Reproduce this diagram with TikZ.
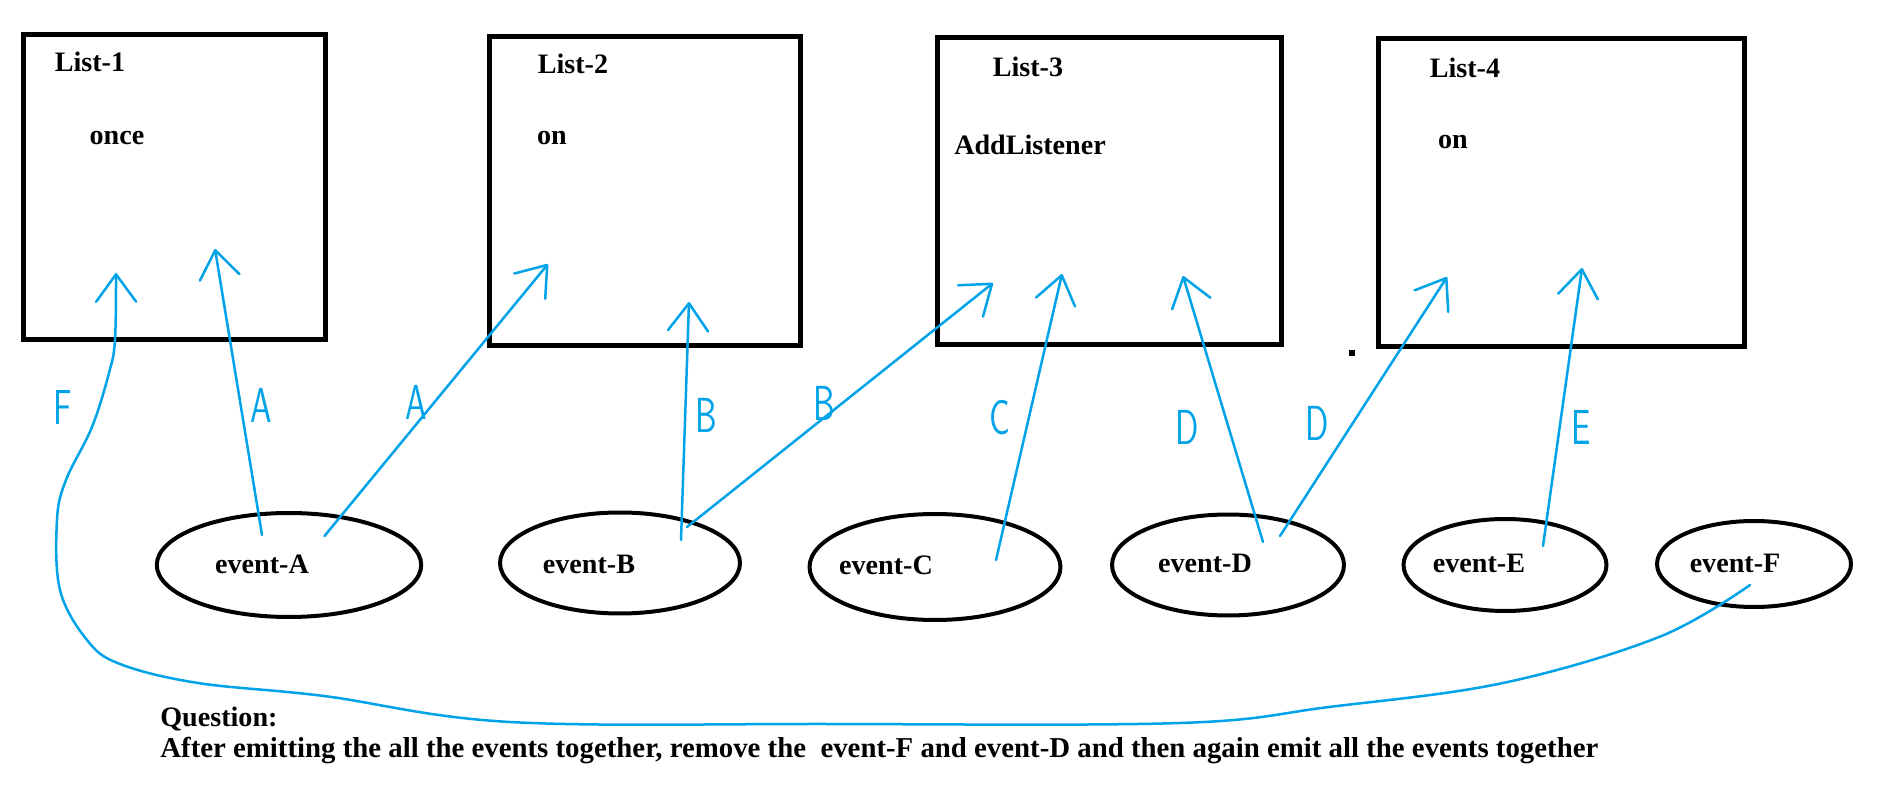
\documentclass[tikz,border=0pt]{standalone}
\usepackage{fontspec}
\usepackage{graphicx}
\setmainfont{Liberation Serif}
\definecolor{paintblue}{RGB}{0,162,232}
\usetikzlibrary{shapes.geometric}
\usetikzlibrary{arrows.meta}
\tikzset{
  listbox/.style={draw, line width=0.09cm, inner sep=0pt},
  evt/.style={draw, ellipse, line width=0.08cm, inner sep=0pt},
  lbl/.style={font=\bfseries\fontsize{16}{16}\selectfont, inner sep=0pt},
  wire/.style={paintblue, line width=0.05cm, line cap=round, line join=round,
    -{Straight Barb[length=0.55cm, width=0.8cm, round]}},
  hand/.style={paintblue, inner sep=0pt, font=\sffamily\fontsize{28}{28}\selectfont}
}
\newcommand{\hw}[1]{\scalebox{0.7}[1]{#1}}

\begin{document}
\begin{tikzpicture}[x=0.02cm, y=-0.02cm]
  \useasboundingbox (0,0) rectangle (1879,786);

  % lists
  \node [listbox, minimum width=6.05cm, minimum height=6.11cm] (l1) at (174.5,187) {};
  \node [listbox, minimum width=6.23cm, minimum height=6.19cm] (l2) at (645,191) {};
  \node [listbox, minimum width=6.89cm, minimum height=6.15cm] (l3) at (1109.5,191) {};
  \node [listbox, minimum width=7.33cm, minimum height=6.17cm] (l4) at (1561.5,192.5) {};

  \node [lbl] (t1) at (90,62) {List-1};
  \node [lbl] (m1) at (117,138) {once};
  \node [lbl] (t2) at (573,64) {List-2};
  \node [lbl] (m2) at (552,138) {on};
  \node [lbl] (t3) at (1028,67) {List-3};
  \node [lbl] (m3) at (1030,145) {AddListener};
  \node [lbl] (t4) at (1465,68) {List-4};
  \node [lbl] (m4) at (1453,142) {on};

  \fill (1349,350) rectangle ++(6,6);

  % events
  \node [evt, minimum width=5.29cm, minimum height=2.08cm] (evA) at (289,565) {};
  \node [evt, minimum width=4.80cm, minimum height=2.02cm] (evB) at (620,563) {};
  \node [evt, minimum width=5.02cm, minimum height=2.12cm] (evC) at (935,567) {};
  \node [evt, minimum width=4.64cm, minimum height=2.02cm] (evD) at (1228,565) {};
  \node [evt, minimum width=4.06cm, minimum height=1.84cm] (evE) at (1505,565) {};
  \node [evt, minimum width=3.88cm, minimum height=1.72cm] (evF) at (1754,564) {};

  \node [lbl] (tA) at (262,564) {event-A};
  \node [lbl] (tB) at (589,564) {event-B};
  \node [lbl] (tC) at (886,565) {event-C};
  \node [lbl] (tD) at (1205,563) {event-D};
  \node [lbl] (tE) at (1479,563) {event-E};
  \node [lbl] (tF) at (1735,563) {event-F};

  % events to lists
  \draw [wire] ([shift={(-27,-30)}]evA.center) -- ([shift={(40.5,62)}]l1.center);
  \draw [wire] ([shift={(35.5,-29)}]evA.center) -- ([shift={(-97,73)}]l2.center);
  \draw [wire] ([shift={(61,-23)}]evB.center) -- ([shift={(44,111)}]l2.center);
  \draw [wire] ([shift={(67,-36)}]evB.center) -- ([shift={(-116.5,92)}]l3.center);
  \draw [wire] ([shift={(61,-7)}]evC.center) -- ([shift={(-47.5,83)}]l3.center);
  \draw [wire] ([shift={(35,-23)}]evD.center) -- ([shift={(73.5,85)}]l3.center);
  \draw [wire] ([shift={(52,-29)}]evD.center) -- ([shift={(-114.5,84.5)}]l4.center);
  \draw [wire] ([shift={(38,-19)}]evE.center) -- ([shift={(20.5,75.5)}]l4.center);

  % F goes round the bottom
  \draw [wire] plot [smooth, tension=0.6] coordinates {([shift={(-4,21)}]evF.center)
    (1659,637) (1503,683) (1329,707) (1180,723) (827,724) (510,722) (324,696)
    (198,683) (120,664) (87,640) (60,590) (57,520) (66,480) (92,427) (109,373)
    (115,340) ([shift={(-58.5,86)}]l1.center)};

  \node [hand] (hF) at (63,407) {\hw{F}};
  \node [hand] (hA1) at (261,405) {\hw{A}};
  \node [hand] (hA2) at (416,402) {\hw{A}};
  \node [hand] (hB1) at (706,415) {\hw{B}};
  \node [hand] (hB2) at (824,403) {\hw{B}};
  \node [hand] (hC) at (1000,418) {\hw{C}};
  \node [hand] (hD1) at (1187,427) {\hw{D}};
  \node [hand] (hD2) at (1317,423) {\hw{D}};
  \node [hand] (hE) at (1581,427) {\hw{E}};

  \node [lbl, anchor=base west] (q1) at (160,726) {Question:};
  \node [lbl, anchor=base west, font=\bfseries\fontsize{16.4}{16.4}\selectfont] (q2) at (160,757) {After emitting the all the events together, remove the\ \ event-F and event-D and then again emit all the events together};
\end{tikzpicture}
\end{document}
